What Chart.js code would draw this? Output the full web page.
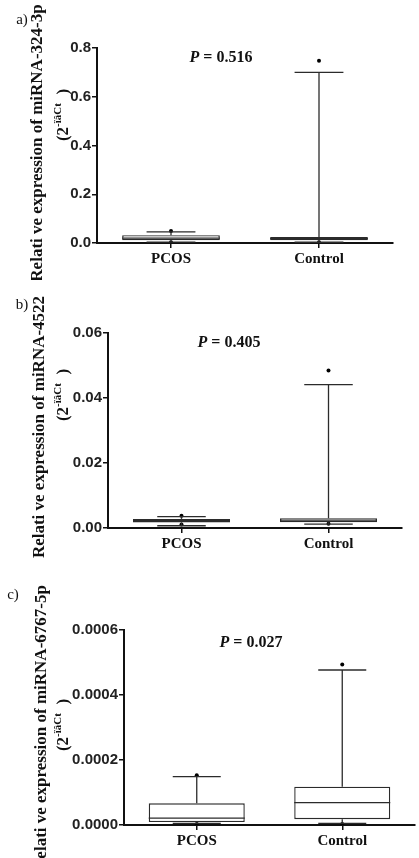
<!DOCTYPE html>
<html>
<head>
<meta charset="utf-8">
<script src="https://cdn.jsdelivr.net/npm/chart.js@4.4.1/dist/chart.umd.min.js"></script>
<style>
  body { margin: 0; background: #fff; }
  #wrap { position: relative; width: 419px; height: 858px; overflow: hidden; }
  canvas { position: absolute; left: 0; }
</style>
</head>
<body>
<div id="wrap">
  <canvas id="chartA" width="419" height="280" style="top:0px"></canvas>
  <canvas id="chartB" width="419" height="280" style="top:280px"></canvas>
  <canvas id="chartC" width="419" height="298" style="top:560px"></canvas>
</div>
<script>
const groups = ['PCOS', 'Control'];

// a) miRNA-324-3p
const minA = [0.004, 0.003];
const q1A = [0.011, 0.011];
const medA = [0.020, 0.018];
const q3A = [0.032, 0.025];
const maxA = [0.046, 0.700];
const dotsA = [[0.049, 0.003], [0.748, 0.003]];
const ticksA = [0, 0.2, 0.4, 0.6, 0.8];

// b) miRNA-4522
const minB = [0.0007, 0.0012];
const q1B = [0.0017, 0.0018];
const medB = [0.0023, 0.0022];
const q3B = [0.0028, 0.0030];
const maxB = [0.0035, 0.0441];
const dotsB = [[0.0038, 0.0011], [0.0485, 0.0013]];
const ticksB = [0, 0.02, 0.04, 0.06];

// c) miRNA-6767-5p
const minC = [0.000005, 0.000005];
const q1C = [0.000009, 0.000018];
const medC = [0.000021, 0.000069];
const q3C = [0.000067, 0.000118];
const maxC = [0.000149, 0.000477];
const dotsC = [[0.000153, 0.000003], [0.000494, 0.000003]];
const ticksC = [0, 0.0002, 0.0004, 0.0006];

const pValues = ['0.516', '0.405', '0.027'];
const mirNames = ['miRNA-324-3p', 'miRNA-4522', 'miRNA-6767-5p'];
const panelLetters = ['a)', 'b)', 'c)'];

const ink = '#2b2b2b';

// Whiskers, caps and medians drawn through the chart's own scales
const boxPlugin = {
    id: 'boxExtras',
    afterDatasetsDraw(chart, args, opts) {
        const { ctx } = chart;
        const x = chart.scales.x, y = chart.scales.y;
        const meta = chart.getDatasetMeta(0);
        ctx.save();
        ctx.strokeStyle = ink;
        ctx.lineWidth = 1.3;
        opts.med.forEach((m, i) => {
            const cx = x.getPixelForValue(i);
            const half = meta.data[i].width / 2;
            const cap = half / 2;
            const line = (x1, y1, x2, y2) => {
                ctx.beginPath(); ctx.moveTo(x1, y1); ctx.lineTo(x2, y2); ctx.stroke();
            };
            // upper whisker + cap
            line(cx, y.getPixelForValue(opts.q3[i]), cx, y.getPixelForValue(opts.max[i]));
            line(cx - cap, y.getPixelForValue(opts.max[i]), cx + cap, y.getPixelForValue(opts.max[i]));
            // lower whisker + cap
            line(cx, y.getPixelForValue(opts.q1[i]), cx, y.getPixelForValue(opts.min[i]));
            line(cx - cap, y.getPixelForValue(opts.min[i]), cx + cap, y.getPixelForValue(opts.min[i]));
            // median
            line(cx - half, y.getPixelForValue(m), cx + half, y.getPixelForValue(m));
        });
        ctx.restore();
    }
};

// Panel letter, rotated axis title and P value
const textPlugin = {
    id: 'panelText',
    afterDraw(chart, args, opts) {
        const { ctx } = chart;
        ctx.save();
        ctx.fillStyle = '#111';
        ctx.textBaseline = 'middle';

        ctx.font = '15px "Liberation Serif"';
        ctx.textAlign = 'center';
        ctx.fillText(opts.letter, opts.letterX, opts.letterY);

        // title line 1
        ctx.save();
        ctx.translate(opts.t1x, opts.t1y);
        ctx.rotate(-Math.PI / 2);
        ctx.font = 'bold 17px "Liberation Serif"';
        ctx.fillText('Relati ve expression of ' + opts.mir, 0, 0);
        ctx.restore();

        // title line 2: (2^-ïâCt )
        ctx.save();
        ctx.translate(opts.t2x, opts.t2y);
        ctx.rotate(-Math.PI / 2);
        const big = 'bold 17px "Liberation Serif"';
        const small = 'bold 11px "Liberation Serif"';
        const parts = [['(2', big, 0], ['-ïâCt', small, -6], ['  )', big, 0]];
        let total = 0;
        parts.forEach(p => { ctx.font = p[1]; total += ctx.measureText(p[0]).width; });
        let px = -total / 2;
        ctx.textAlign = 'left';
        parts.forEach(p => {
            ctx.font = p[1];
            ctx.fillText(p[0], px, p[2]);
            px += ctx.measureText(p[0]).width;
        });
        ctx.restore();

        // P value
        const a = 'bold italic 16px "Liberation Serif"';
        const b = 'bold 16px "Liberation Serif"';
        ctx.font = a; const w1 = ctx.measureText('P').width;
        ctx.font = b; const w2 = ctx.measureText(' = ' + opts.p).width;
        let sx = opts.pX - (w1 + w2) / 2;
        ctx.textAlign = 'left';
        ctx.font = a; ctx.fillText('P', sx, opts.pY);
        ctx.font = b; ctx.fillText(' = ' + opts.p, sx + w1, opts.pY);
        ctx.restore();
    }
};

function makeChart(id, d, layout) {
    const dots = [];
    d.dots.forEach((list, i) => list.forEach(v => dots.push({ x: groups[i], y: v })));
    return new Chart(document.getElementById(id), {
        type: 'bar',
        data: {
            labels: groups,
            datasets: [
                {
                    data: d.q1.map((v, i) => [v, d.q3[i]]),
                    backgroundColor: '#ffffff',
                    borderColor: ink,
                    borderWidth: 1.4,
                    borderSkipped: false,
                    barPercentage: 0.66,
                    categoryPercentage: 1
                },
                {
                    type: 'line',
                    data: dots,
                    showLine: false,
                    pointRadius: 2,
                    pointBackgroundColor: '#000',
                    pointBorderWidth: 0
                }
            ]
        },
        options: {
            responsive: false,
            animation: false,
            devicePixelRatio: 1,
            layout: { padding: { left: 0, top: layout.top, right: layout.right, bottom: layout.bottom } },
            plugins: {
                legend: { display: false },
                tooltip: { enabled: false },
                boxExtras: { min: d.min, q1: d.q1, med: d.med, q3: d.q3, max: d.max },
                panelText: layout.text
            },
            scales: {
                x: {
                    offset: true,
                    grid: { offset: false, drawOnChartArea: false, drawTicks: true, tickLength: 5, color: '#111', lineWidth: 1.5 },
                    border: { display: true, color: '#111', width: 2 },
                    ticks: { color: '#111', padding: 2, font: { family: '"Liberation Serif"', weight: 'bold', size: 15 } },
                    afterFit: s => { s.height = 30; }
                },
                y: {
                    min: 0,
                    max: d.ticks[d.ticks.length - 1],
                    afterBuildTicks: s => { s.ticks = d.ticks.map(v => ({ value: v })); },
                    grid: { drawOnChartArea: false, drawTicks: true, tickLength: 5, color: '#111', lineWidth: 1.5 },
                    border: { display: true, color: '#111', width: 2 },
                    ticks: {
                        color: '#222',
                        padding: 1,
                        font: { family: '"Liberation Sans"', weight: 'bold', size: 15 },
                        callback: v => v.toFixed(d.dec)
                    },
                    afterFit: s => { s.width = layout.yW; }
                }
            }
        },
        plugins: [boxPlugin, textPlugin]
    });
}

makeChart('chartA',
    { min: minA, q1: q1A, med: medA, q3: q3A, max: maxA, dots: dotsA, ticks: ticksA, dec: 1 },
    { top: 48, right: 26, bottom: 7, yW: 97,
      text: { letter: panelLetters[0], letterX: 22, letterY: 20, mir: mirNames[0], t1x: 38, t1y: 143, t2x: 64, t2y: 115, p: pValues[0], pX: 221, pY: 58 } });

makeChart('chartB',
    { min: minB, q1: q1B, med: medB, q3: q3B, max: maxB, dots: dotsB, ticks: ticksB, dec: 2 },
    { top: 53, right: 17, bottom: 2, yW: 108,
      text: { letter: panelLetters[1], letterX: 22, letterY: 25, mir: mirNames[1], t1x: 40, t1y: 147, t2x: 64, t2y: 115, p: pValues[1], pX: 229, pY: 63 } });

makeChart('chartC',
    { min: minC, q1: q1C, med: medC, q3: q3C, max: maxC, dots: dotsC, ticks: ticksC, dec: 4 },
    { top: 70, right: 2, bottom: 3, yW: 124,
      text: { letter: panelLetters[2], letterX: 13, letterY: 35, mir: mirNames[2], t1x: 42, t1y: 168, t2x: 64, t2y: 165, p: pValues[2], pX: 251, pY: 83 } });
</script>
</body>
</html>
